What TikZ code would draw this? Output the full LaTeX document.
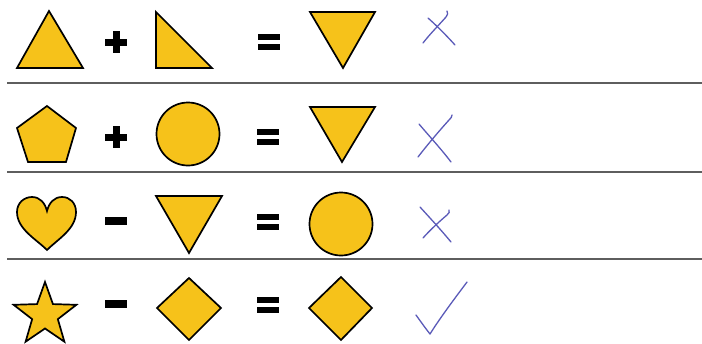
\documentclass[tikz,border=0pt]{standalone}
\definecolor{shapefill}{HTML}{F6C21A}
\definecolor{pen}{HTML}{5A5AB8}
\definecolor{rule}{HTML}{5E5E5E}
\tikzset{
  shp/.style={draw=black, fill=shapefill, line width=1.7pt, line join=miter},
  sep/.style={draw=rule, line width=1.8pt},
  penmark/.style={draw=pen, line width=1.3pt, line cap=round, line join=round},
}
\newcommand{\plusop}[2]{\fill[black] (#1-11,#2-3.5) rectangle (#1+11,#2+3.5); \fill[black] (#1-3.5,#2-11) rectangle (#1+3.5,#2+11);}
\newcommand{\minusop}[2]{\fill[black] (#1-11,#2-4) rectangle (#1+11,#2+4);}
\newcommand{\equalsop}[2]{\fill[black] (#1-11,#2-8.5) rectangle (#1+11,#2-2.5); \fill[black] (#1-11,#2+1.5) rectangle (#1+11,#2+7.5);}
\begin{document}
\begin{tikzpicture}[x=1pt,y=-1pt]
\useasboundingbox (0,0) rectangle (702,343);
% separators
\draw[sep] (7,83) -- (702,83);
\draw[sep] (7,172) -- (702,172);
\draw[sep] (7,259) -- (702,259);
% row 1
\draw[shp] (17,68) -- (83,68) -- (49,11) -- cycle;
\plusop{116}{42}
\draw[shp] (156,12) -- (156,68) -- (212,68) -- cycle;
\equalsop{269}{42}
\draw[shp] (310,12) -- (375,12) -- (343,68) -- cycle;
\draw[penmark] (423,43) .. controls (430,34) and (438,26) .. (446,17) .. controls (448,15) and (448,13) .. (447,11);
\draw[penmark] (428,18) .. controls (437,26) and (446,35) .. (455,45);
% row 2
\draw[shp] (47,106) -- (76,128) -- (66,162) -- (28,162) -- (17,128) -- cycle;
\plusop{116}{137}
\draw[shp] (188,134) circle[radius=31.5];
\equalsop{268}{137}
\draw[shp] (310,107) -- (375,107) -- (342,162) -- cycle;
\draw[penmark] (418,157) .. controls (428,144) and (440,130) .. (449,120) .. controls (451,118) and (452,117) .. (452,115);
\draw[penmark] (419,124) .. controls (430,137) and (442,150) .. (451,162);
% row 3
\draw[shp] (47,250) .. controls (36,239) and (17,229) .. (17,212)
  .. controls (17,203) and (24,197) .. (32,197)
  .. controls (40,197) and (45,203) .. (47,211)
  .. controls (49,203) and (54,197) .. (62,197)
  .. controls (70,197) and (76,203) .. (76,212)
  .. controls (76,229) and (58,239) .. (47,250) -- cycle;
\minusop{116}{221}
\draw[shp] (156,196) -- (222,196) -- (189,253) -- cycle;
\equalsop{268}{222}
\draw[shp] (341,224) circle[radius=31.5];
\draw[penmark] (423,238) .. controls (431,229) and (440,221) .. (447,215) .. controls (449,213) and (450,212) .. (449,210);
\draw[penmark] (420,207) .. controls (430,218) and (442,231) .. (451,242);
% row 4
\draw[shp, shift={(45,315)}] (-90:33) -- (-54:13.5) -- (-18:33) -- (18:13.5) -- (54:33) -- (90:13.5) -- (126:33) -- (162:13.5) -- (198:33) -- (234:13.5) -- cycle;
\minusop{116}{304}
\draw[shp] (189,278) -- (221,308) -- (189,340) -- (157,308) -- cycle;
\equalsop{268}{305}
\draw[shp] (341,277) -- (372,308) -- (341,340) -- (309,308) -- cycle;
\draw[penmark] (416,315) .. controls (421,322) and (426,329) .. (430,334) .. controls (440,318) and (455,298) .. (467,282);
\end{tikzpicture}
\end{document}
